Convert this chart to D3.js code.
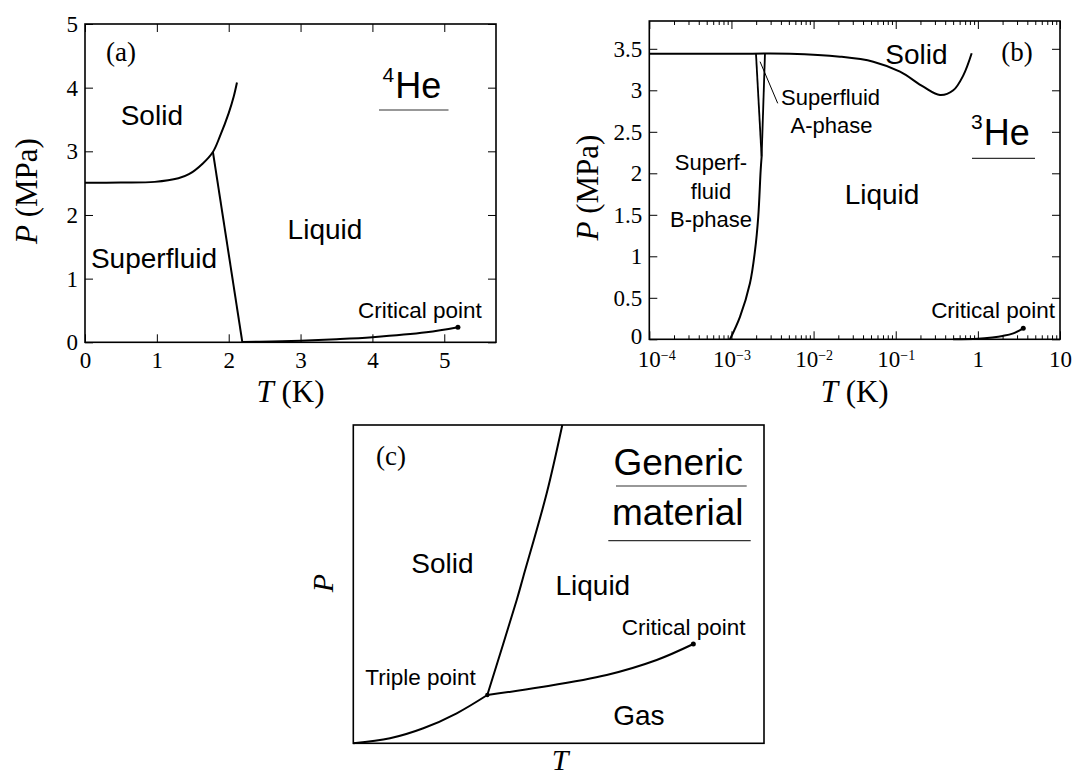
<!DOCTYPE html>
<html><head><meta charset="utf-8">
<script src="https://cdn.jsdelivr.net/npm/d3@7"></script>
<style>
body{margin:0;background:#fff;}
svg{display:block;background:#fff;}
</style></head><body>
<svg id="fig" width="1073" height="776"></svg>
<script>
// ---------- (a) helium-4 phase boundaries (T in K, P in MPa) ----------
const he4MeltT   = [0, 0.5, 0.97, 1.3, 1.446, 1.64, 1.78, 1.876, 2.0, 2.07, 2.115];
const he4MeltP   = [2.507, 2.51, 2.52, 2.576, 2.64, 2.81, 2.99, 3.23, 3.6, 3.86, 4.08];
const he4LambdaT = [1.78, 2.19];
const he4LambdaP = [2.99, 0];
const he4VapT    = [2.19, 2.6, 3.0, 3.5, 4.0, 4.75, 5.19];
const he4VapP    = [0.004, 0.012, 0.025, 0.048, 0.08, 0.157, 0.236];
const he4XTicks  = [0, 1, 2, 3, 4, 5];
const he4YTicks  = [0, 1, 2, 3, 4, 5];

// ---------- (b) helium-3 phase boundaries ----------
const he3MeltT = [1e-4, 0.001, 0.00516, 0.021, 0.0533, 0.1127, 0.217, 0.346, 0.502, 0.665, 0.841];
const he3MeltP = [3.44, 3.44, 3.44, 3.405, 3.345, 3.224, 3.043, 2.943, 3.0, 3.18, 3.446];
const he3BT    = [0.00096, 0.00127, 0.00168, 0.00194, 0.00212, 0.00227, 0.00233];
const he3BP    = [0, 0.27, 0.675, 1.076, 1.477, 2.04, 2.2];
const he3ABT   = [0.00233, 0.00199];
const he3ABP   = [2.2, 3.44];
const he3ANT   = [0.00233, 0.00256];
const he3ANP   = [2.2, 3.44];
const he3PointerT = [0.00223, 0.00366];
const he3PointerP = [3.345, 2.843];
const he3VapT  = [0.5, 1.0, 1.5, 2.0, 2.7, 3.57];
const he3VapP  = [0, 0.006, 0.022, 0.04, 0.072, 0.1325];
const he3XTicks = [1e-4, 1e-3, 1e-2, 1e-1, 1, 10];
const he3YTicks = [0, 0.5, 1, 1.5, 2, 2.5, 3, 3.5];

// ---------- (c) generic material (arbitrary units) ----------
const genSublT = [0, 0.894, 1.705, 2.518, 3.263];
const genSublP = [0, 0.157, 0.471, 0.943, 1.517];
const genMeltT = [3.263, 3.979, 4.139, 4.709, 5.089];
const genMeltP = [1.517, 4.502, 5.234, 7.854, 10];
const genVapT  = [3.263, 4.546, 6.17, 7.387, 8.279];
const genVapP  = [1.517, 1.759, 2.146, 2.617, 3.119];

const SERIF = '"Liberation Serif","Times New Roman",serif';
const SANS  = '"Liberation Sans",Arial,sans-serif';
const TICK_SIZE = 23;

const svg = d3.select("#fig");
const zip = (a, b) => a.map((v, i) => [v, b[i]]);

function drawCurve(g, x, y, T, P, curve, w) {
  g.append("path")
    .datum(zip(T, P))
    .attr("fill", "none").attr("stroke", "#000")
    .attr("stroke-width", w || 2).attr("stroke-linejoin", "round")
    .attr("d", d3.line().x(d => x(d[0])).y(d => y(d[1])).curve(curve || d3.curveCatmullRom.alpha(0.5)));
}
function dot(g, x, y, t, p, r) {
  g.append("circle").attr("cx", x(t)).attr("cy", y(p)).attr("r", r || 2.5).attr("fill", "#000");
}
function label(g, x, y, t, p, txt, size, anchor) {
  return g.append("text").attr("x", x(t)).attr("y", y(p))
    .attr("font-family", SANS).attr("font-size", size)
    .attr("text-anchor", anchor || "middle").text(txt);
}
function serifLabel(g, x, y, t, p, txt, size) {
  return g.append("text").attr("x", x(t)).attr("y", y(p))
    .attr("font-family", SERIF).attr("font-size", size)
    .attr("text-anchor", "middle").text(txt);
}
function frame(g, x, y) {
  const [x0, x1] = x.range(), [y0, y1] = y.range();
  g.append("rect").attr("x", x0).attr("y", y1).attr("width", x1 - x0).attr("height", y0 - y1)
    .attr("fill", "none").attr("stroke", "#000").attr("stroke-width", 1.6);
}
function styleAxis(sel) {
  sel.select(".domain").remove();
  sel.selectAll(".tick line").attr("stroke", "#000").attr("stroke-width", 1);
  sel.attr("font-family", SERIF).attr("font-size", TICK_SIZE);
  sel.selectAll(".tick text").attr("fill", "#000");
}
function boxAxes(g, x, y, xTicks, yTicks, xFmt, yFmt, len) {
  const [x0, x1] = x.range(), [y0, y1] = y.range();
  g.append("g").attr("transform", `translate(0,${y0})`)
    .call(d3.axisBottom(x).tickValues(xTicks).tickSize(-len).tickPadding(9).tickFormat(xFmt))
    .call(styleAxis);
  g.append("g").attr("transform", `translate(0,${y1})`)
    .call(d3.axisTop(x).tickValues(xTicks).tickSize(-len).tickFormat(""))
    .call(styleAxis);
  const left = g.append("g").attr("transform", `translate(${x0},0)`)
    .call(d3.axisLeft(y).tickValues(yTicks).tickSize(-len).tickPadding(7).tickFormat(yFmt))
    .call(styleAxis);
  g.append("g").attr("transform", `translate(${x1},0)`)
    .call(d3.axisRight(y).tickValues(yTicks).tickSize(-len).tickFormat(""))
    .call(styleAxis);
  return left;
}
function axisTitles(g, x, y, xTitle, yTitle, xBase, yBase, yMid) {
  const [x0, x1] = x.range();
  const tx = g.append("text").attr("x", (x0 + x1) / 2).attr("y", xBase)
    .attr("font-family", SERIF).attr("font-size", 31).attr("text-anchor", "middle");
  tx.append("tspan").attr("font-style", "italic").text(xTitle[0]);
  if (xTitle[1]) tx.append("tspan").text(xTitle[1]);
  const ty = g.append("text").attr("transform", `translate(${yBase},${yMid}) rotate(-90)`)
    .attr("font-family", SERIF).attr("font-size", 31).attr("text-anchor", "middle");
  ty.append("tspan").attr("font-style", "italic").text(yTitle[0]);
  if (yTitle[1]) ty.append("tspan").text(yTitle[1]);
}
function isotope(g, x, y, t, p, mass, lineY, lineX0, lineX1) {
  const t0 = g.append("text").attr("x", x(t)).attr("y", y(p))
    .attr("font-family", SANS).attr("font-size", 36);
  t0.append("tspan").attr("font-size", 21).attr("dy", -16).text(mass);
  t0.append("tspan").attr("dy", 16).attr("dx", 1).text("He");
  g.append("line").attr("x1", lineX0).attr("x2", lineX1).attr("y1", lineY).attr("y2", lineY)
    .attr("stroke", "#333").attr("stroke-width", 1.2);
}

// ================= panel (a) =================
{
  const g = svg.append("g");
  const x = d3.scaleLinear().domain([0, 5.72]).range([85, 496]);
  const y = d3.scaleLinear().domain([0, 5]).range([342.3, 24]);
  boxAxes(g, x, y, he4XTicks, he4YTicks, d3.format("d"), d3.format("d"), 8);
  drawCurve(g, x, y, he4MeltT, he4MeltP);
  drawCurve(g, x, y, he4LambdaT, he4LambdaP, d3.curveLinear);
  drawCurve(g, x, y, he4VapT, he4VapP);
  dot(g, x, y, he4VapT[he4VapT.length - 1], he4VapP[he4VapP.length - 1]);
  frame(g, x, y);
  serifLabel(g, x, y, 0.5, 4.42, "(a)", 27);
  label(g, x, y, 0.93, 3.41, "Solid", 28);
  label(g, x, y, 0.96, 1.17, "Superfluid", 28);
  label(g, x, y, 3.34, 1.63, "Liquid", 28);
  label(g, x, y, 4.66, 0.38, "Critical point", 22.5);
  isotope(g, x, y, 4.14, 3.84, "4", 110, 379, 448.5);
  axisTitles(g, x, y, ["T", " (K)"], ["P", " (MPa)"], 402, 37, 191);
}

// ================= panel (b) =================
{
  const g = svg.append("g");
  const x = d3.scaleLog().domain([1e-4, 10]).range([649.3, 1060]);
  const y = d3.scaleLinear().domain([0, 3.835]).range([339.3, 21]);
  const [x0, x1] = x.range(), [y0, y1] = y.range();
  // minor decade ticks (2..9 per decade), top and bottom
  const minor = [];
  he3XTicks.slice(0, -1).forEach(d => { for (let k = 2; k <= 9; k++) minor.push(d * k); });
  g.append("g").attr("transform", `translate(0,${y0})`)
    .call(d3.axisBottom(x).tickValues(minor).tickSize(-4).tickFormat("")).call(styleAxis);
  g.append("g").attr("transform", `translate(0,${y1})`)
    .call(d3.axisTop(x).tickValues(minor).tickSize(-4).tickFormat("")).call(styleAxis);
  const left = boxAxes(g, x, y, he3XTicks, he3YTicks, d => "", d3.format(""), 8);
  // lift the zero label a little so it clears the corner label below it
  left.selectAll(".tick text").filter(d => d === 0).attr("dy", "0.2em");
  // power-of-ten labels
  g.append("g").attr("transform", `translate(0,${y0})`)
    .call(d3.axisBottom(x).tickValues(he3XTicks).tickSize(0).tickPadding(11).tickFormat(""))
    .call(styleAxis)
    .selectAll(".tick text").each(function (d, i) {
      const e = Math.round(Math.log10(d));
      const t = d3.select(this);
      if (i === 0) t.attr("dx", 7);
      if (e >= 0) { t.text(d === 1 ? "1" : "10"); return; }
      t.append("tspan").text("10");
      t.append("tspan").attr("font-size", 14).attr("dy", "-0.45em").text("\u2212" + (-e));
    });
  drawCurve(g, x, y, he3MeltT, he3MeltP);
  drawCurve(g, x, y, he3BT, he3BP);
  drawCurve(g, x, y, he3ABT, he3ABP, d3.curveLinear, 1.8);
  drawCurve(g, x, y, he3ANT, he3ANP, d3.curveLinear, 1.8);
  drawCurve(g, x, y, he3PointerT, he3PointerP, d3.curveLinear, 1);
  drawCurve(g, x, y, he3VapT, he3VapP);
  dot(g, x, y, he3VapT[he3VapT.length - 1], he3VapP[he3VapP.length - 1]);
  frame(g, x, y);
  serifLabel(g, x, y, 2.99, 3.353, "(b)", 27);
  label(g, x, y, 0.179, 3.317, "Solid", 28);
  label(g, x, y, 0.0161, 2.823, "Superfluid", 22);
  label(g, x, y, 0.0165, 2.486, "A-phase", 22);
  label(g, x, y, 0.000563, 2.04, "Superf-", 22);
  label(g, x, y, 0.000563, 1.69, "fluid", 22);
  label(g, x, y, 0.000563, 1.357, "B-phase", 22);
  label(g, x, y, 0.0681, 1.63, "Liquid", 28);
  label(g, x, y, 1.53, 0.257, "Critical point", 22.5);
  isotope(g, x, y, 0.824, 2.34, "3", 158.3, 972, 1035);
  axisTitles(g, x, y, ["T", " (K)"], ["P", " (MPa)"], 402, 598, 187.5);
}

// ================= panel (c) =================
{
  const g = svg.append("g");
  const x = d3.scaleLinear().domain([0, 10]).range([353.3, 764]);
  const y = d3.scaleLinear().domain([0, 10]).range([743.3, 425]);
  drawCurve(g, x, y, genSublT, genSublP);
  drawCurve(g, x, y, genMeltT, genMeltP);
  drawCurve(g, x, y, genVapT, genVapP);
  dot(g, x, y, genVapT[0], genVapP[0], 2.2);
  dot(g, x, y, genVapT[genVapT.length - 1], genVapP[genVapP.length - 1], 2.5);
  frame(g, x, y);
  serifLabel(g, x, y, 0.918, 8.745, "(c)", 27);
  label(g, x, y, 7.913, 8.43, "Generic", 37);
  label(g, x, y, 7.899, 6.858, "material", 37);
  g.append("line").attr("x1", 616).attr("x2", 746.7).attr("y1", 486).attr("y2", 486)
    .attr("stroke", "#333").attr("stroke-width", 1.2);
  g.append("line").attr("x1", 608.3).attr("x2", 750.7).attr("y1", 540.7).attr("y2", 540.7)
    .attr("stroke", "#333").attr("stroke-width", 1.2);
  label(g, x, y, 2.172, 5.35, "Solid", 28);
  label(g, x, y, 5.832, 4.659, "Liquid", 28);
  label(g, x, y, 8.045, 3.402, "Critical point", 22.5);
  label(g, x, y, 1.636, 1.832, "Triple point", 22.5);
  label(g, x, y, 6.952, 0.575, "Gas", 28);
  g.append("text").attr("x", 560).attr("y", 770).attr("font-family", SERIF).attr("font-size", 30)
    .attr("font-style", "italic").attr("text-anchor", "middle").text("T");
  g.append("text").attr("transform", "translate(333,583) rotate(-90)").attr("font-family", SERIF)
    .attr("font-size", 30).attr("font-style", "italic").attr("text-anchor", "middle").text("P");
}
</script>
</body></html>
